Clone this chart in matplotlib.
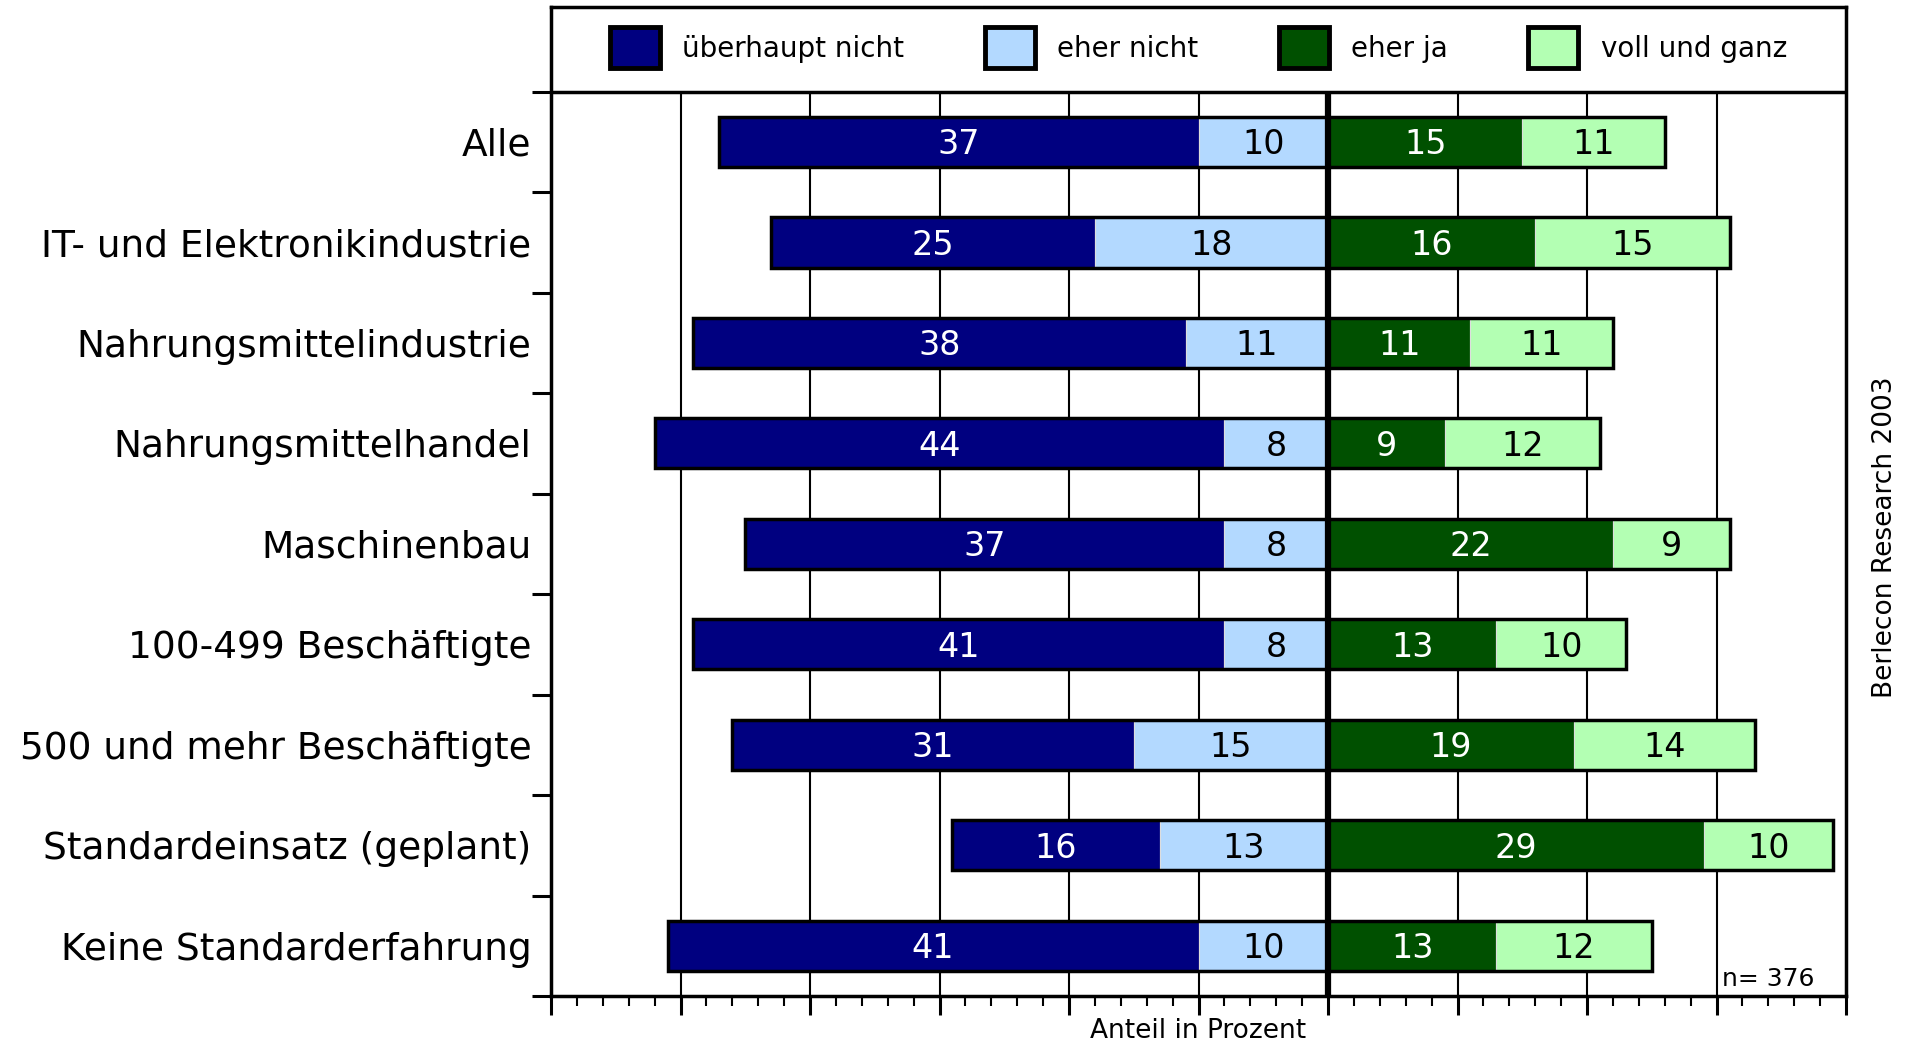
import matplotlib
matplotlib.use("Agg")
import matplotlib.pyplot as plt
from matplotlib.patches import Patch, Rectangle
from matplotlib.legend_handler import HandlerPatch
from matplotlib.ticker import MultipleLocator, FixedLocator
import numpy as np

# --- DATA ---
categories = ["Alle", "IT- und Elektronikindustrie", "Nahrungsmittelindustrie",
              "Nahrungsmittelhandel", "Maschinenbau", "100-499 Beschäftigte",
              "500 und mehr Beschäftigte", "Standardeinsatz (geplant)",
              "Keine Standarderfahrung"]
ueberhaupt_nicht = [37, 25, 38, 44, 37, 41, 31, 16, 41]
eher_nicht = [10, 18, 11, 8, 8, 8, 15, 13, 10]
eher_ja = [15, 16, 11, 9, 22, 13, 19, 29, 13]
voll_und_ganz = [11, 15, 11, 12, 9, 10, 14, 10, 12]
series_names = ["überhaupt nicht", "eher nicht", "eher ja", "voll und ganz"]
n_text = "n= 376"
source_text = "Berlecon Research 2003"
xlabel_text = "Anteil in Prozent"

# --- STYLE ---
colors = ["#000080", "#b3d9ff", "#005000", "#b3ffb3"]
text_colors = ["white", "black", "white", "black"]
plt.rcParams['font.family'] = ['DejaVu Sans']

fig = plt.figure(figsize=(19.14, 10.45), dpi=100)
ax = fig.add_axes([0.2879, 0.0469, 0.6766, 0.9461])

y = np.arange(len(categories))
legend_space = 0.84
bar_h = 0.5

a = np.array(ueberhaupt_nicht)
b = np.array(eher_nicht)
c = np.array(eher_ja)
d = np.array(voll_und_ganz)

# segments: left side negative, right side positive
segs = [(-(a + b), a), (-b, b), (np.zeros_like(c), c), (c, d)]
for (left, width), col, tcol in zip(segs, colors, text_colors):
    ax.barh(y, width, left=left, height=bar_h, color=col,
            edgecolor="#dddddd", linewidth=0.8, zorder=3)
    for yi, l, w in zip(y, left, width):
        ax.text(l + w / 2, yi + 0.03, str(w), ha="center", va="center",
                color=tcol, fontsize=24, zorder=5)

# outline around each half of the bar
ax.barh(y, a + b, left=-(a + b), height=bar_h, facecolor="none",
        edgecolor="black", linewidth=2.5, zorder=4)
ax.barh(y, c + d, left=0, height=bar_h, facecolor="none",
        edgecolor="black", linewidth=2.5, zorder=4)

ax.set_xlim(-60, 40)
ax.set_ylim(len(categories) - 0.5, -0.5 - legend_space)

# gridlines only in the plot part, not the legend box
ax.vlines(np.arange(-50, 40, 10), -0.5, len(categories) - 0.5,
          color="black", linewidth=1.5, zorder=1)
ax.vlines(0, -0.5, len(categories) - 0.5, color="black", linewidth=4.5, zorder=6)
ax.axhline(-0.5, color="black", linewidth=2.5, zorder=6)

# ticks
ax.xaxis.set_major_locator(MultipleLocator(10))
ax.xaxis.set_minor_locator(MultipleLocator(2))
ax.tick_params(axis="x", which="major", direction="out", length=14, width=2.2,
               labelbottom=False)
ax.tick_params(axis="x", which="minor", direction="out", length=7, width=1.5)
ax.set_yticks(y)
ax.set_yticklabels(categories, fontsize=27)
ax.yaxis.set_minor_locator(FixedLocator(np.arange(-0.5, len(categories), 1.0)))
ax.tick_params(axis="y", which="major", length=0, pad=14)
ax.tick_params(axis="y", which="minor", direction="out", length=14, width=2.2)

for s in ax.spines.values():
    s.set_linewidth(2.5)


# taller legend squares
def tall_box(legend, orig_handle, xdescent, ydescent, width, height, fontsize):
    mid = -ydescent + height / 2
    h = 1.5 * fontsize
    return Rectangle((-xdescent, mid - h / 2), width, h)


handles = [Patch(facecolor=col, edgecolor="black", linewidth=3.5) for col in colors]
ax.legend(handles, series_names, loc="center", bbox_to_anchor=(0.5, 0.9575),
          ncol=4, frameon=False, fontsize=20, handlelength=1.8,
          handletextpad=0.8, columnspacing=2.9,
          handler_map={Patch: HandlerPatch(patch_func=tall_box)})

ax.text(30.4, len(categories) - 0.55, n_text, ha="left", va="bottom", fontsize=18)
fig.text(0.6262, 0.013, xlabel_text, ha="center", va="center", fontsize=19)
fig.text(0.985, 0.486, source_text, ha="center", va="center", rotation=90,
         fontsize=19)

fig.savefig("out.png", dpi=100)
